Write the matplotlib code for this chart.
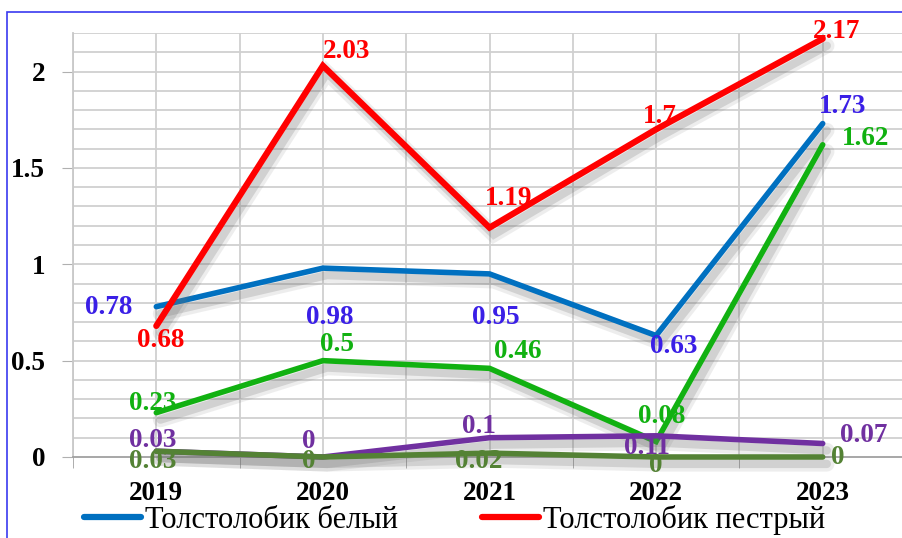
import matplotlib.pyplot as plt
import matplotlib.patheffects as pe
from matplotlib.patches import Rectangle
from matplotlib.lines import Line2D

years = ["2019", "2020", "2021", "2022", "2023"]

belyi = [0.78, 0.98, 0.95, 0.63, 1.73]
pestryi = [0.68, 2.03, 1.19, 1.7, 2.17]
green_vals = [0.23, 0.5, 0.46, 0.08, 1.62]
purple_vals = [0.03, 0, 0.1, 0.11, 0.07]
olive_vals = [0.03, 0, 0.02, 0, 0]

names = ["Толстолобик белый", "Толстолобик пестрый"]

# label offsets in screen pixels (dx right, dy down)
off_blue = [(-48, 1), (7, 49), (6, 44), (18, 11), (20, -17)]
off_red = [(4, 15), (24, -14), (19, -29), (4, -13), (14, -7)]
off_green = [(-4, -9), (14, -16), (28, -17), (6, -25), (43, -6)]
off_purple = [(-4, -11), (-14, -16), (-11, -11), (-9, 12), (41, -8)]
off_olive = [(-4, 10), (-14, 5), (-11, 8), (0, 8), (15, 0)]

plt.rcParams['font.family'] = ['Liberation Serif', 'DejaVu Serif']

fig = plt.figure(figsize=(9.02, 5.38), dpi=100)
ax = fig.add_axes([73 / 902, 81 / 538, 833 / 902, 424 / 538])

x = list(range(len(years)))
shadow = [pe.SimpleLineShadow(offset=(3, -5), shadow_color='#707070', alpha=0.12, linewidth=11),
          pe.SimpleLineShadow(offset=(3, -5), shadow_color='#707070', alpha=0.22, linewidth=6),
          pe.Normal()]

series = [
    (belyi, '#0070C0', '#3A1FE6', off_blue, 4.0),
    (pestryi, '#FF0000', '#FF0000', off_red, 4.5),
    (green_vals, '#11B111', '#11B111', off_green, 4.0),
    (purple_vals, '#7030A0', '#7030A0', off_purple, 4.0),
    (olive_vals, '#548235', '#548235', off_olive, 4.0),
]

for vals, col, lcol, offs, lw in series:
    ax.plot(x, vals, color=col, lw=lw, solid_capstyle='round', solid_joinstyle='miter',
            path_effects=shadow, zorder=3, clip_on=False)

for vals, col, lcol, offs, lw in series:
    for xi, v, (dx, dy) in zip(x, vals, offs):
        ax.annotate(f"{v:g}", (xi, v), xytext=(dx, -dy), textcoords='offset pixels',
                    ha='center', va='center', color=lcol, fontsize=19.5,
                    fontweight='bold', zorder=5, annotation_clip=False)

ax.set_xlim(-0.5, 4.5)
ax.set_ylim(0, 2.2)

ax.set_xticks(x)
ax.set_xticklabels(years, fontsize=19.5, fontweight='bold')
ax.set_xticks([i - 0.5 for i in range(6)], minor=True)
ax.tick_params(axis='x', which='major', length=0, pad=17)
ax.tick_params(axis='x', which='minor', length=8, color='#A0A0A0', direction='out')

ax.set_yticks([0, 0.5, 1, 1.5, 2])
ax.set_yticklabels(["0", "0.5", "1", "1.5", "2"], fontsize=19.5, fontweight='bold')
ax.set_yticks([i / 10 for i in range(23)], minor=True)
ax.tick_params(axis='y', which='major', length=8, color='#B0B0B0', pad=12)
ax.tick_params(axis='y', which='minor', length=0)

# grid lines every 0.5 on x and 0.1 on y
for gx in [i * 0.5 - 0.5 for i in range(11)]:
    ax.axvline(gx, color='#D0D0D0', lw=1.3, zorder=0)
for gy in [i / 10 for i in range(1, 23)]:
    ax.axhline(gy, color='#D0D0D0', lw=1.3, zorder=0)

for s in ['top', 'right']:
    ax.spines[s].set_visible(False)
ax.spines['left'].set_color('#C8C8C8')
ax.spines['left'].set_linewidth(1.3)
ax.spines['bottom'].set_color('#A0A0A0')
ax.spines['bottom'].set_linewidth(1.3)

handles = [Line2D([], [], color='#0070C0', lw=4.5, solid_capstyle='round'),
           Line2D([], [], color='#FF0000', lw=4.5, solid_capstyle='round')]
fig.legend(handles, names, loc='center left', bbox_to_anchor=(84 / 902, 1 - 520 / 538), ncol=2,
           frameon=False, fontsize=22, handlelength=1.85, handletextpad=0.15,
           columnspacing=2.75, borderaxespad=0, borderpad=0)

fig.patches.append(Rectangle((7 / 902, -0.1), 1.2, 1.1 - 12 / 538, transform=fig.transFigure,
                             fill=False, edgecolor='#3A3AF0', lw=1.2))

fig.savefig("out.png", dpi=100)
